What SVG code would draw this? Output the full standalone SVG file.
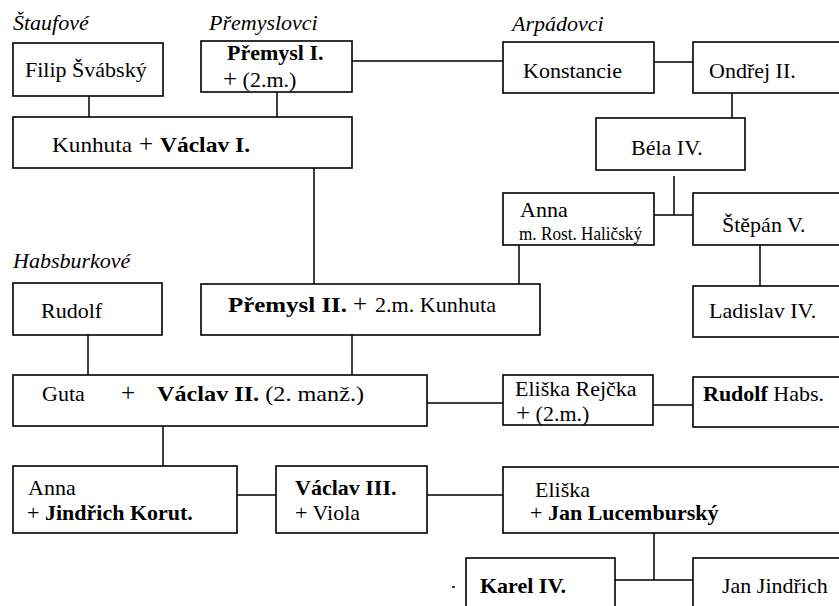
<svg xmlns="http://www.w3.org/2000/svg" width="839" height="606" viewBox="0 0 839 606">
<style>
.box{fill:#fff;stroke:#000;stroke-width:1.6}
.c{fill:none;stroke:#000;stroke-width:1.5}
.b{font-weight:bold}
.h{font-style:italic}
.s{font-size:18px}
.p{font-size:25px}
</style>
<rect width="839" height="606" fill="#fff"/>
<g id="connectors">
<path class="c" d="M89 96V117M277 92V117M352 61H503M654 62H693M732 93V118M314 168V284M674 176V215M654 215H693M519 245V284M760 245V286M88 335V375M352 335V375M427 403H503M653 405H693M163 426V466M237 495H276M427 495H503M654 533V580M615 580H693"/>
<path class="c" d="M452 587H455"/>
</g>
<g font-family="'Liberation Serif', 'Times New Roman', Times, serif" font-size="22" fill="#000">
<g id="labels">
<text class="h" x="13" y="30">Štaufové</text>
<text class="h" x="209" y="30">Přemyslovci</text>
<text class="h" x="512" y="31">Arpádovci</text>
<text class="h" x="13" y="268">Habsburkové</text>
</g>
<g id="filip"><rect class="box" x="13" y="43" width="150" height="53"/><text x="25" y="77">Filip Švábský</text></g>
<g id="premysl1"><rect class="box" x="201" y="41" width="151" height="51"/><text class="b" x="227" y="60">Přemysl I.</text><text x="223" y="87"><tspan class="p">+</tspan> (2.m.)</text></g>
<g id="kunhuta"><rect class="box" x="13" y="117" width="339" height="51"/><text x="52" y="152" textLength="80" lengthAdjust="spacingAndGlyphs">Kunhuta</text><text class="p" x="139" y="152">+</text><text class="b" x="160" y="152" textLength="90" lengthAdjust="spacingAndGlyphs">Václav I.</text></g>
<g id="konstancie"><rect class="box" x="503" y="42" width="151" height="51"/><text x="523" y="78">Konstancie</text></g>
<g id="ondrej"><rect class="box" x="693" y="42" width="160" height="51"/><text x="709" y="78">Ondřej II.</text></g>
<g id="bela"><rect class="box" x="596" y="118" width="149" height="52"/><text x="631" y="155">Béla IV.</text></g>
<g id="anna-halicsky"><rect class="box" x="503" y="193" width="151" height="52"/><text x="520" y="217">Anna</text><text class="s" x="519" y="240" textLength="123" lengthAdjust="spacingAndGlyphs">m. Rost. Haličský</text></g>
<g id="stepan"><rect class="box" x="693" y="193" width="160" height="52"/><text x="722" y="232">Štěpán V.</text></g>
<g id="rudolf"><rect class="box" x="13" y="283" width="149" height="52"/><text x="41" y="318">Rudolf</text></g>
<g id="premysl2"><rect class="box" x="201" y="284" width="339" height="51"/><text class="b" x="228" y="312" textLength="119" lengthAdjust="spacingAndGlyphs">Přemysl II.</text><text class="p" x="353" y="312">+</text><text x="375" y="312" textLength="121" lengthAdjust="spacingAndGlyphs">2.m. Kunhuta</text></g>
<g id="ladislav"><rect class="box" x="693" y="286" width="160" height="51"/><text x="709" y="318">Ladislav IV.</text></g>
<g id="guta"><rect class="box" x="13" y="375" width="414" height="51"/><text x="42" y="401">Guta</text><text class="p" x="121" y="401">+</text><text x="157" y="401" textLength="207" lengthAdjust="spacingAndGlyphs"><tspan class="b">Václav II.</tspan> (2. manž.)</text></g>
<g id="eliska-rejcka"><rect class="box" x="503" y="375" width="150" height="50"/><text x="515" y="396">Eliška Rejčka</text><text x="516" y="421"><tspan class="p">+</tspan> (2.m.)</text></g>
<g id="rudolf-habs"><rect class="box" x="693" y="377" width="160" height="50"/><text x="703" y="401"><tspan class="b">Rudolf</tspan> Habs.</text></g>
<g id="anna-korut"><rect class="box" x="13" y="466" width="224" height="67"/><text x="28" y="495">Anna</text><text x="27" y="520">+ <tspan class="b">Jindřich Korut.</tspan></text></g>
<g id="vaclav3"><rect class="box" x="276" y="466" width="151" height="67"/><text class="b" x="295" y="495">Václav III.</text><text x="295" y="520">+ Viola</text></g>
<g id="eliska"><rect class="box" x="503" y="467" width="350" height="66"/><text x="535" y="497">Eliška</text><text x="530" y="520">+ <tspan class="b">Jan Lucemburský</tspan></text></g>
<g id="karel"><rect class="box" x="466" y="558" width="149" height="60"/><text class="b" x="480" y="593">Karel IV.</text></g>
<g id="jan-jindrich"><rect class="box" x="693" y="558" width="160" height="60"/><text x="722" y="593">Jan Jindřich</text></g>
</g>
</svg>
